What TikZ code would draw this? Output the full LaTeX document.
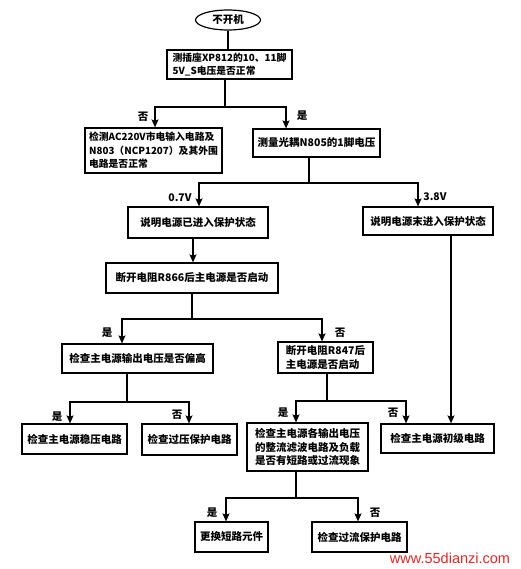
\documentclass[tikz,border=0pt]{standalone}
\usepackage{fontspec}
\setmainfont{Noto Sans CJK SC}
\newfontfamily\urlfont{Liberation Sans}
\usetikzlibrary{arrows.meta,shapes.geometric}
\definecolor{urlred}{RGB}{222,40,40}
\begin{document}
\begin{tikzpicture}[x=1pt,y=-1pt,
 box/.style={draw, line width=1.2pt, inner sep=0pt, align=left, font=\bfseries\fontsize{10.5}{13.5}\selectfont},
 smallbox/.style={box, font=\bfseries\fontsize{9.8}{13.5}\selectfont},
 conn/.style={line width=1.2pt},
 arr/.style={line width=1.2pt, -{Stealth[length=8pt,width=7pt,inset=1.5pt]}},
 lab/.style={font=\bfseries\fontsize{10.5}{12}\selectfont, inner sep=0pt}]
\useasboundingbox (0,0) rectangle (520,569);
\fill[white] (0,0) rectangle (520,569);

% nodes
\node[draw, ellipse, line width=1.2pt, minimum width=65pt, minimum height=20pt, inner sep=0pt, font=\bfseries\fontsize{10.5}{12}\selectfont] (start) at (228,20) {不开机};
\node[smallbox, minimum width=125pt, minimum height=29pt] (b2) at (229.5,64.5) {测插座XP812的10、11脚\\5V\_S电压是否正常};
\node[smallbox, minimum width=137pt, minimum height=45pt] (b3) at (153.5,150.5) {检测AC220V市电输入电路及\\N803（NCP1207）及其外围\\电路是否正常};
\node[box, minimum width=127pt, minimum height=28pt] (b4) at (316.5,143) {测量光耦N805的1脚电压};
\node[box, minimum width=140pt, minimum height=31pt] (b5) at (198,222.5) {说明电源已进入保护状态};
\node[box, minimum width=130pt, minimum height=28pt] (b6) at (428,221) {说明电源末进入保护状态};
\node[box, minimum width=172pt, minimum height=30pt] (b7) at (192,278) {断开电阻R866后主电源是否启动};
\node[box, minimum width=151pt, minimum height=29pt] (b8) at (137.5,358.5) {检查主电源输出电压是否偏高};
\node[box, minimum width=95pt, minimum height=31pt] (b9) at (325.5,357.5) {断开电阻R847后\\主电源是否启动};
\node[box, minimum width=105pt, minimum height=30pt] (b10) at (74.5,439) {检查主电源稳压电路};
\node[box, minimum width=95pt, minimum height=31pt] (b11) at (189.5,439.5) {检查过压保护电路};
\node[box, minimum width=113pt, minimum height=29pt] (b12) at (437.5,438.5) {检查主电源初级电路};
\node[box, minimum width=121pt, minimum height=48pt] (b13) at (307.5,447) {检查主电源各输出电压\\的整流滤波电路及负载\\是否有短路或过流现象};
\node[box, minimum width=73pt, minimum height=30pt] (b14) at (231.5,537) {更换短路元件};
\node[box, minimum width=95pt, minimum height=30pt] (b15) at (359.5,537) {检查过流保护电路};

% junctions
\coordinate (j1) at (225,107);
\coordinate (j2) at (309,183);
\coordinate (j3) at (192,319);
\coordinate (j4) at (127,402);
\coordinate (j5) at (327,401);
\coordinate (j6) at (296,498);

% connectors
\draw[conn] (start.south) -- (start.south |- b2.north);
\draw[conn] (b2.south -| j1) -- (j1);
\draw[arr] (j1) -| (b3.north -| 155,0);
\draw[arr] (j1) -| (b4.north -| 286,0);
\draw[conn] (b4.south -| j2) -- (j2);
\draw[arr] (j2) -| (b5.north -| 199,0);
\draw[arr] (j2) -| (b6.north -| 418,0);
\draw[arr] (b5.south -| 193,0) -- (b7.north -| 193,0);
\draw[conn] (b7.south -| j3) -- (j3);
\draw[arr] (j3) -| (b8.north -| 122,0);
\draw[arr] (j3) -| (b9.north -| 322,0);
\draw[conn] (b8.south -| j4) -- (j4);
\draw[arr] (j4) -| (b10.north -| 70,0);
\draw[arr] (j4) -| (b11.north -| 189,0);
\draw[conn] (b9.south -| j5) -- (j5);
\draw[arr] (j5) -| (b13.north -| 296,0);
\draw[arr] (j5) -| (b12.north -| 406,0);
\draw[arr] (b6.south -| 451,0) -- (b12.north -| 451,0);
\draw[conn] (b13.south -| j6) -- (j6);
\draw[arr] (j6) -| (b14.north -| 226,0);
\draw[arr] (j6) -| (b15.north -| 358,0);

% labels
\node[lab] (l1) at (143,117) {否};
\node[lab] (l2) at (302,116) {是};
\node[lab] (l3) at (180,198) {0.7V};
\node[lab] (l4) at (435,197) {3.8V};
\node[lab] (l5) at (107,333) {是};
\node[lab] (l6) at (340,333) {否};
\node[lab] (l7) at (57,417) {是};
\node[lab] (l8) at (177,415) {否};
\node[lab] (l9) at (283,413) {是};
\node[lab] (l10) at (393,413) {否};
\node[lab] (l11) at (212,513) {是};
\node[lab] (l12) at (375,513) {否};

\node[font=\urlfont\fontsize{14.5}{15}\selectfont, text=urlred, inner sep=0pt] (url) at (450,558) {www.55dianzi.com};
\end{tikzpicture}
\end{document}
